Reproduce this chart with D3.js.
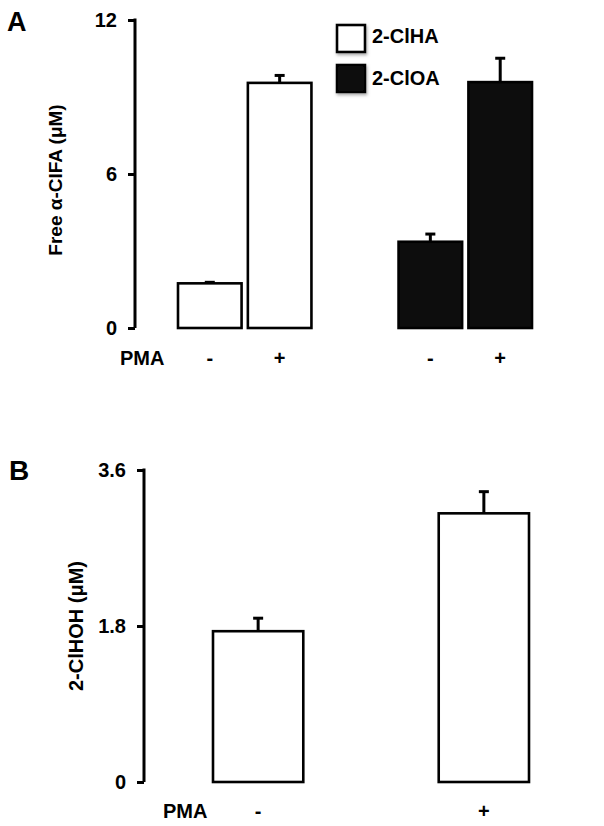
<!DOCTYPE html>
<html>
<head>
<meta charset="utf-8">
<script src="https://cdn.jsdelivr.net/npm/d3@7"></script>
<style>
  body { margin: 0; background: #fff; }
  text { font-family: "Liberation Sans", Arial, sans-serif; font-weight: bold; fill: #000; }
</style>
</head>
<body>
<svg id="fig"></svg>
<script>
// panel A data
const compounds = ["2-ClHA", "2-ClOA"];
const pmaLevels = ["-", "+"];
const clhaMean = [1.74, 9.55];
const clhaErr = [0.04, 0.29];
const cloaMean = [3.36, 9.58];
const cloaErr = [0.30, 0.93];
const ticksA = [0, 6, 12];

// panel B data
const clhohMean = [1.74, 3.10];
const clhohErr = [0.15, 0.25];
const ticksB = [0, 1.8, 3.6];

const fills = ["#ffffff", "#0d0d0d"];

let svg = d3.select("#fig").attr("width", 604).attr("height", 826);

let defs = svg.append("defs");
defs.append("filter").attr("id", "shadow")
  .attr("x", "-20%").attr("y", "-50%").attr("width", "140%").attr("height", "200%")
  .append("feDropShadow")
  .attr("dx", 1).attr("dy", 2).attr("stdDeviation", 1.5)
  .attr("flood-color", "#777").attr("flood-opacity", 0.6);

const drawAxis = (g, y, ticks, fmt, axisX, x0, x1) => {
  let ax = g.append("g")
    .attr("transform", `translate(${axisX},0)`)
    .call(d3.axisLeft(y).tickValues(ticks).tickFormat(fmt).tickSize(7).tickSizeOuter(0).tickPadding(11));
  ax.select(".domain").remove();
  ax.selectAll(".tick line").attr("stroke", "#000").attr("stroke-width", 3);
  ax.selectAll(".tick text").style("font-size", "20px").attr("fill", "#000");
  g.append("line")
    .attr("x1", axisX).attr("x2", axisX)
    .attr("y1", y(ticks[ticks.length - 1]) - 1.5).attr("y2", y(0))
    .attr("stroke", "#000").attr("stroke-width", 3);
  g.append("line")
    .attr("x1", x0).attr("x2", x1)
    .attr("y1", y(0)).attr("y2", y(0))
    .attr("stroke", "#000").attr("stroke-width", 3)
    .attr("filter", "url(#shadow)");
}

const drawBar = (g, x, w, y, v, e, fill) => {
  g.append("line")
    .attr("x1", x + w / 2).attr("x2", x + w / 2)
    .attr("y1", y(v)).attr("y2", y(v + e))
    .attr("stroke", "#000").attr("stroke-width", 3);
  g.append("line")
    .attr("x1", x + w / 2 - 5).attr("x2", x + w / 2 + 5)
    .attr("y1", y(v + e)).attr("y2", y(v + e))
    .attr("stroke", "#000").attr("stroke-width", 3);
  g.append("rect")
    .attr("x", x).attr("y", y(v))
    .attr("width", w).attr("height", y(0) - y(v))
    .attr("fill", fill).attr("stroke", "#000").attr("stroke-width", 2.6);
}

// ---------- Panel A ----------
let gA = svg.append("g");
let yA = d3.scaleLinear().domain([0, 12]).range([328, 20]);
let xA = d3.scaleBand().domain(compounds).range([178, 532]).paddingInner(0.395).paddingOuter(0);
let xAin = d3.scaleBand().domain(pmaLevels).range([0, xA.bandwidth()]).paddingInner(0.09).paddingOuter(0);

drawAxis(gA, yA, ticksA, d3.format("d"), 135, 130, 583);

let meansA = [clhaMean, cloaMean];
let errsA = [clhaErr, cloaErr];
compounds.forEach((c, i) => {
  pmaLevels.forEach((p, j) => {
    drawBar(gA, xA(c) + xAin(p), xAin.bandwidth(), yA, meansA[i][j], errsA[i][j], fills[i]);
    gA.append("text")
      .attr("x", xA(c) + xAin(p) + xAin.bandwidth() / 2).attr("y", 365)
      .attr("text-anchor", "middle").style("font-size", "20px")
      .text(p);
  });
});

gA.append("text").attr("x", 120).attr("y", 365).style("font-size", "20px").text("PMA");
gA.append("text").attr("x", 7).attr("y", 31).style("font-size", "27px").text("A");
gA.append("text")
  .attr("transform", "translate(62,180) rotate(-90)")
  .attr("text-anchor", "middle").style("font-size", "19px")
  .text("Free α-ClFA (μM)");

// legend
let leg = gA.append("g");
compounds.forEach((c, i) => {
  leg.append("rect")
    .attr("x", 337).attr("y", 25 + i * 40)
    .attr("width", 28).attr("height", 27)
    .attr("fill", fills[i]).attr("stroke", "#000").attr("stroke-width", 2.6)
    .attr("filter", "url(#shadow)");
  leg.append("text")
    .attr("x", 372).attr("y", 43 + i * 42)
    .style("font-size", "20px")
    .text(c);
});

// ---------- Panel B ----------
let gB = svg.append("g");
let yB = d3.scaleLinear().domain([0, 3.6]).range([782, 470]);
let xB = d3.scaleBand().domain(pmaLevels).range([213, 529]).paddingInner(0.6).paddingOuter(0);

drawAxis(gB, yB, ticksB, d => d === 0 ? "0" : d3.format(".1f")(d), 144, 140, 592);

pmaLevels.forEach((p, j) => {
  drawBar(gB, xB(p), xB.bandwidth(), yB, clhohMean[j], clhohErr[j], fills[0]);
  gB.append("text")
    .attr("x", xB(p) + xB.bandwidth() / 2).attr("y", 818)
    .attr("text-anchor", "middle").style("font-size", "20px")
    .text(p);
});

gB.append("text").attr("x", 163).attr("y", 818).style("font-size", "20px").text("PMA");
gB.append("text").attr("x", 9).attr("y", 480).style("font-size", "28px").text("B");
gB.append("text")
  .attr("transform", "translate(83,626) rotate(-90)")
  .attr("text-anchor", "middle").style("font-size", "20px")
  .text("2-ClHOH (μM)");
</script>
</body>
</html>
